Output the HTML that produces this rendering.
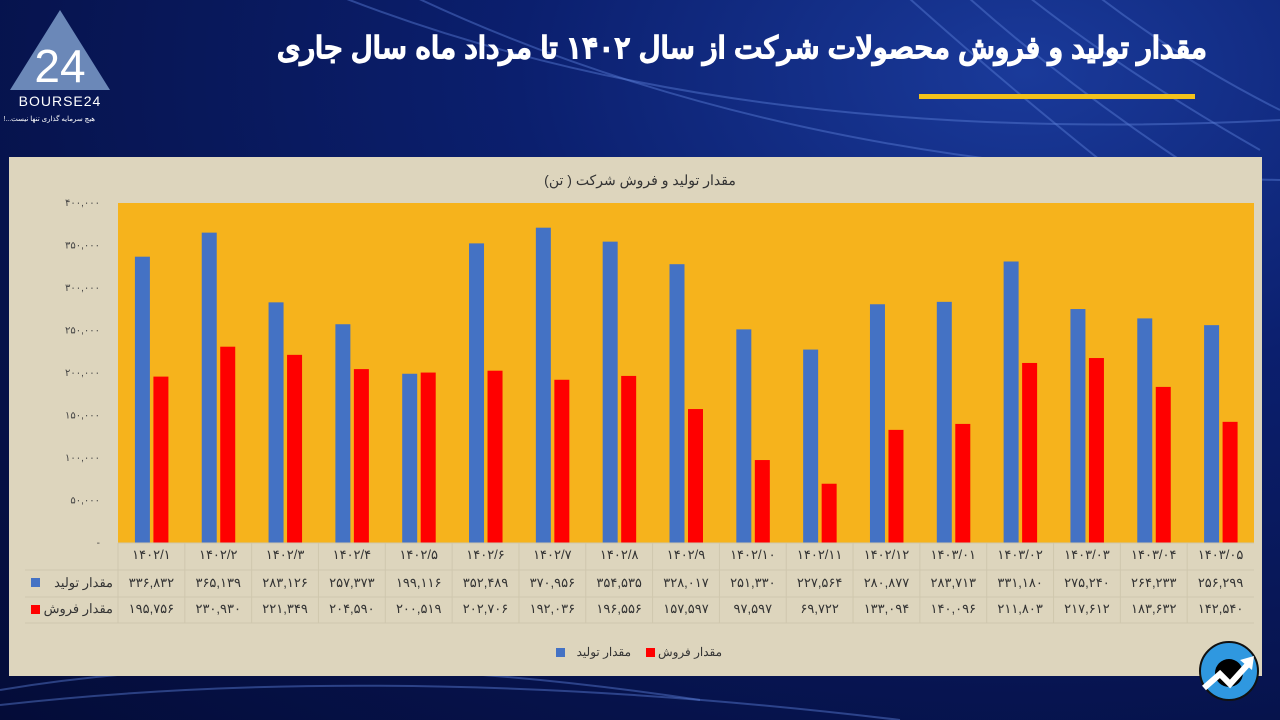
<!DOCTYPE html>
<html><head><meta charset="utf-8">
<style>
body{margin:0;width:1280px;height:720px;overflow:hidden;font-family:"Liberation Sans","Noto Sans CJK SC",sans-serif;}
#bg{position:absolute;left:0;top:0;width:1280px;height:720px;background:radial-gradient(ellipse at 80% 10%,#1a3a9a 0%,#0b1f6e 35%,#06124a 75%,#040c38 100%);}
#panel{position:absolute;left:9px;top:157px;width:1253px;height:519px;background:#ddd5bd;}
</style></head><body>
<div id="bg">
<svg width="1280" height="720" style="position:absolute;left:0;top:0">
<g fill="none" stroke="#5a7fd8" stroke-opacity="0.45" stroke-width="2">
<path d="M300 -20 Q700 150 1280 120"/><path d="M380 -20 Q760 170 1280 180"/>
<path d="M900 -10 Q1000 80 1100 160"/><path d="M960 -10 Q1060 80 1180 160"/>
<path d="M1020 -10 Q1120 70 1260 150"/><path d="M1090 -10 Q1180 60 1280 110"/>
<path d="M0 690 Q300 640 700 700"/><path d="M0 705 Q400 660 900 720"/>
</g></svg>
</div>
<svg width="1280" height="160" style="position:absolute;left:0;top:0">
<polygon points="60,10 110,90 10,90" fill="#6b88b8"/>
<text x="60" y="82" font-size="46" fill="#fff" text-anchor="middle" font-family="Liberation Sans" font-weight="300">24</text>
<text x="60" y="106" font-size="14" fill="#fff" text-anchor="middle" letter-spacing="1">BOURSE24</text>
<text x="95" y="121" font-size="7" fill="#fff" text-anchor="start" direction="rtl">هیچ سرمایه گذاری تنها نیست...!</text>
<text x="1207" y="58" font-size="30" font-weight="bold" fill="#fff" text-anchor="start" direction="rtl" textLength="930" lengthAdjust="spacingAndGlyphs" stroke="#fff" stroke-width="1">مقدار تولید و فروش محصولات شرکت از سال ۱۴۰۲ تا مرداد ماه سال جاری</text>
<rect x="919" y="94" width="276" height="5" fill="#f2c21b"/>
</svg>
<div id="panel"></div>
<svg id="chart" width="1280" height="720" style="position:absolute;left:0;top:0"></svg>
<svg width="70" height="70" style="position:absolute;left:1196px;top:638px">
<circle cx="33" cy="33" r="29" fill="#2f98e0" stroke="#111" stroke-width="2"/>
<circle cx="33" cy="35" r="14" fill="#000"/>
<polyline points="8,50 24,36 34,46 54,24" fill="none" stroke="#fff" stroke-width="6"/>
<polygon points="58,18 44,22 56,32" fill="#fff"/>
</svg>
<script>
const categories=["1402/1","1402/2","1402/3","1402/4","1402/5","1402/6","1402/7","1402/8","1402/9","1402/10","1402/11","1402/12","1403/01","1403/02","1403/03","1403/04","1403/05"];
const production=[336832,365139,283126,257373,199116,352489,370956,354535,328017,251330,227564,280877,283713,331180,275240,264233,256299];
const sales=[195756,230930,221349,204590,200519,202706,192036,196556,157597,97597,69722,133094,140096,211803,217612,183632,142540];
const yTicks=[0,50000,100000,150000,200000,250000,300000,350000,400000];
const svg=document.getElementById('chart');const NS="http://www.w3.org/2000/svg";
const fa=s=>String(s).replace(/\d/g,d=>"۰۱۲۳۴۵۶۷۸۹"[d]);
const fmt=v=>fa(v.toLocaleString('en-US'));
const X0=118,X1=1254,Y0=543,Y1=203,n=categories.length,cw=(X1-X0)/n;
const y=v=>Y0-(v/400000)*(Y0-Y1);const x=i=>X0+i*cw;
function el(t,a,txt){const e=document.createElementNS(NS,t);for(const k in a)e.setAttribute(k,a[k]);if(txt!==undefined)e.textContent=txt;svg.appendChild(e);return e;}
let e;
e=el('rect',{x:X0,y:Y1,width:X1-X0,height:Y0-Y1,fill:'#f6b31c'});


e=el('text',{x:640,y:185,'font-size':14,fill:'#333','text-anchor':'middle',direction:'rtl'},'مقدار تولید و فروش شرکت ( تن)');


yTicks.forEach(t=>{e=el('text',{x:100,y:y(t)+3,'font-size':10,fill:'#444','text-anchor':'end'},t===0?'-':fmt(t));

});
categories.forEach((c,i)=>{
const cx=x(i)+cw/2;
e=el('rect',{x:cx-16.5,y:y(production[i]),width:15,height:Y0-y(production[i]),fill:'#4472c4'});


e=el('rect',{x:cx+2,y:y(sales[i]),width:15,height:Y0-y(sales[i]),fill:'#ff0000'});


e=el('text',{x:cx,y:559,'font-size':13,fill:'#333','text-anchor':'middle'},fa(c));


e=el('text',{x:cx,y:587,'font-size':13,fill:'#333','text-anchor':'middle'},fmt(production[i]));


e=el('text',{x:cx,y:613,'font-size':13,fill:'#333','text-anchor':'middle'},fmt(sales[i]));


e=el('line',{x1:x(i),x2:x(i),y1:543,y2:623,stroke:'#cfc7ae','stroke-width':1});


});
[543,570,597,623].forEach(yy=>{e=el('line',{x1:yy===543?X0:25,x2:X1,y1:yy,y2:yy,stroke:'#cfc7ae'});

});
e=el('rect',{x:31,y:578,width:9,height:9,fill:'#4472c4'});


e=el('rect',{x:31,y:605,width:9,height:9,fill:'#ff0000'});


e=el('text',{x:113,y:587,'font-size':13,fill:'#333','text-anchor':'start',direction:'rtl'},'مقدار تولید');


e=el('text',{x:113,y:613,'font-size':13,fill:'#333','text-anchor':'start',direction:'rtl'},'مقدار فروش');


e=el('rect',{x:556,y:648,width:9,height:9,fill:'#4472c4'});


e=el('text',{x:631,y:656,'font-size':12,fill:'#333','text-anchor':'start',direction:'rtl'},'مقدار تولید');


e=el('rect',{x:646,y:648,width:9,height:9,fill:'#ff0000'});


e=el('text',{x:722,y:656,'font-size':12,fill:'#333','text-anchor':'start',direction:'rtl'},'مقدار فروش');


</script>
</body></html>
